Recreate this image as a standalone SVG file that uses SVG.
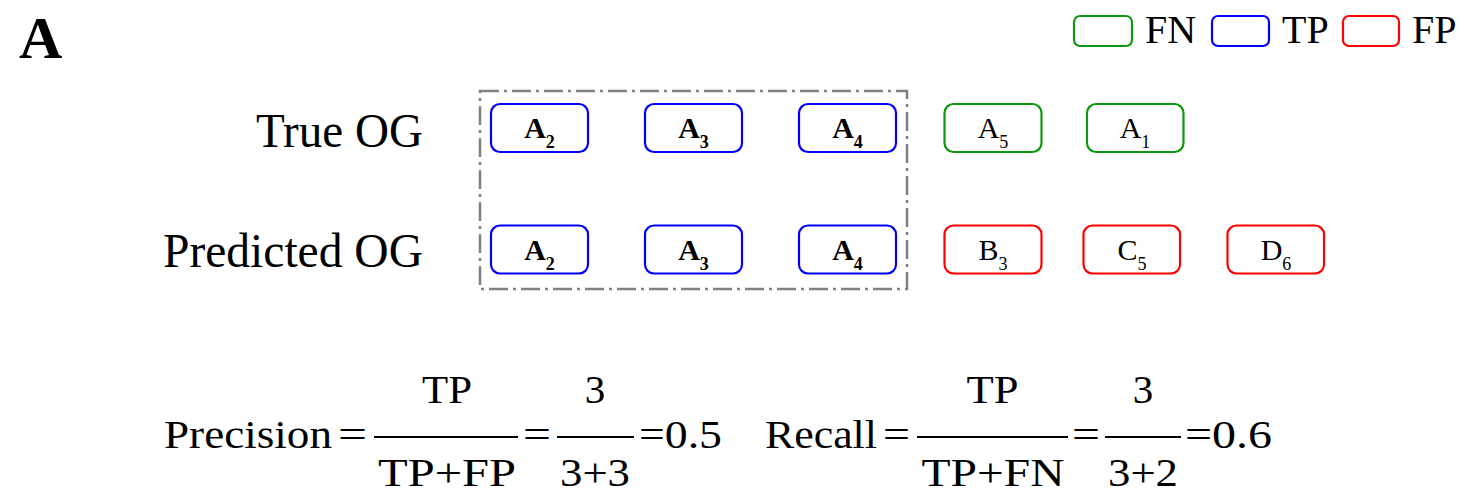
<svg xmlns="http://www.w3.org/2000/svg" width="1464" height="494" viewBox="0 0 1464 494">
<style>
text{font-family:"Liberation Serif","Times New Roman",serif;fill:#000}
.box{fill:#fff;stroke-width:2.2}
.tp{stroke:#0000ff}
.fn{stroke:#109810}
.fp{stroke:#ff0000}
.lbl{font-size:30px;text-anchor:middle}
.b{font-weight:bold}
.sub{font-size:18px}
.lab{font-size:48px;text-anchor:end}
.leg{font-size:40px}
.math{font-size:41px}
.mid{text-anchor:middle}
.frac{stroke:#000;stroke-width:2}
</style>
<rect width="1464" height="494" fill="#fff"/>
<text x="19" y="58" font-size="60" font-weight="bold">A</text>
<g id="legend">
<rect class="box fn" x="1074" y="16" width="58" height="30" rx="6"/>
<text class="leg" x="1145" y="43">FN</text>
<rect class="box tp" x="1212" y="16" width="57" height="30" rx="6"/>
<text class="leg" x="1282" y="43">TP</text>
<rect class="box fp" x="1343" y="16" width="56" height="30" rx="6"/>
<text class="leg" x="1412" y="43">FP</text>
</g>
<text class="lab" x="423" y="146.5" textLength="167" lengthAdjust="spacingAndGlyphs">True OG</text>
<text class="lab" x="423" y="266.5" textLength="260" lengthAdjust="spacingAndGlyphs">Predicted OG</text>
<g id="tp-group">
<rect x="480" y="91" width="427" height="198" fill="none" stroke="#808080" stroke-width="2.5" stroke-dasharray="19 5 3 5"/>
</g>
<g id="t-A2"><rect class="box tp" x="491" y="104" width="97" height="48" rx="9"/><text class="lbl b" x="539.5" y="138">A<tspan class="sub" dy="10">2</tspan></text></g>
<g id="t-A3"><rect class="box tp" x="645" y="104" width="97" height="48" rx="9"/><text class="lbl b" x="693.5" y="138">A<tspan class="sub" dy="10">3</tspan></text></g>
<g id="t-A4"><rect class="box tp" x="799" y="104" width="97" height="48" rx="9"/><text class="lbl b" x="847.5" y="138">A<tspan class="sub" dy="10">4</tspan></text></g>
<g id="t-A5"><rect class="box fn" x="944.5" y="104" width="97" height="48" rx="9"/><text class="lbl" x="993" y="138">A<tspan class="sub" dy="10">5</tspan></text></g>
<g id="t-A1"><rect class="box fn" x="1087" y="104" width="96.5" height="48" rx="9"/><text class="lbl" x="1135" y="138">A<tspan class="sub" dy="10">1</tspan></text></g>
<g id="p-A2"><rect class="box tp" x="491" y="225.5" width="97" height="48" rx="9"/><text class="lbl b" x="539.5" y="259.5">A<tspan class="sub" dy="10">2</tspan></text></g>
<g id="p-A3"><rect class="box tp" x="645" y="225.5" width="97" height="48" rx="9"/><text class="lbl b" x="693.5" y="259.5">A<tspan class="sub" dy="10">3</tspan></text></g>
<g id="p-A4"><rect class="box tp" x="799" y="225.5" width="97" height="48" rx="9"/><text class="lbl b" x="847.5" y="259.5">A<tspan class="sub" dy="10">4</tspan></text></g>
<g id="p-B3"><rect class="box fp" x="944.5" y="225.5" width="97" height="48" rx="9"/><text class="lbl" x="993" y="259.5">B<tspan class="sub" dy="10">3</tspan></text></g>
<g id="p-C5"><rect class="box fp" x="1083.5" y="225.5" width="96.5" height="48" rx="9"/><text class="lbl" x="1132" y="259.5">C<tspan class="sub" dy="10">5</tspan></text></g>
<g id="p-D6"><rect class="box fp" x="1227.5" y="225.5" width="96.5" height="48" rx="9"/><text class="lbl" x="1276" y="259.5">D<tspan class="sub" dy="10">6</tspan></text></g>
<g id="precision">
<text class="math" x="164" y="448" textLength="168" lengthAdjust="spacingAndGlyphs">Precision</text>
<text class="math" x="338" y="448" textLength="29" lengthAdjust="spacingAndGlyphs">=</text>
<line class="frac" x1="374" y1="437" x2="518" y2="437"/>
<text class="math mid" x="447" y="403" textLength="50" lengthAdjust="spacingAndGlyphs">TP</text>
<text class="math mid" x="447" y="486" textLength="138" lengthAdjust="spacingAndGlyphs">TP+FP</text>
<text class="math" x="523" y="448" textLength="28" lengthAdjust="spacingAndGlyphs">=</text>
<line class="frac" x1="557" y1="437" x2="634" y2="437"/>
<text class="math mid" x="595" y="403">3</text>
<text class="math mid" x="595" y="486" textLength="70" lengthAdjust="spacingAndGlyphs">3+3</text>
<text class="math" x="639" y="448" textLength="83" lengthAdjust="spacingAndGlyphs">=0.5</text>
</g>
<g id="recall">
<text class="math" x="765" y="448" textLength="112" lengthAdjust="spacingAndGlyphs">Recall</text>
<text class="math" x="883" y="448" textLength="27" lengthAdjust="spacingAndGlyphs">=</text>
<line class="frac" x1="917" y1="437" x2="1068" y2="437"/>
<text class="math mid" x="992.5" y="403" textLength="52" lengthAdjust="spacingAndGlyphs">TP</text>
<text class="math mid" x="993" y="486" textLength="143" lengthAdjust="spacingAndGlyphs">TP+FN</text>
<text class="math" x="1072" y="448" textLength="28" lengthAdjust="spacingAndGlyphs">=</text>
<line class="frac" x1="1105" y1="437" x2="1181" y2="437"/>
<text class="math mid" x="1143" y="403">3</text>
<text class="math mid" x="1143" y="486" textLength="70" lengthAdjust="spacingAndGlyphs">3+2</text>
<text class="math" x="1185" y="448" textLength="87" lengthAdjust="spacingAndGlyphs">=0.6</text>
</g>
</svg>
